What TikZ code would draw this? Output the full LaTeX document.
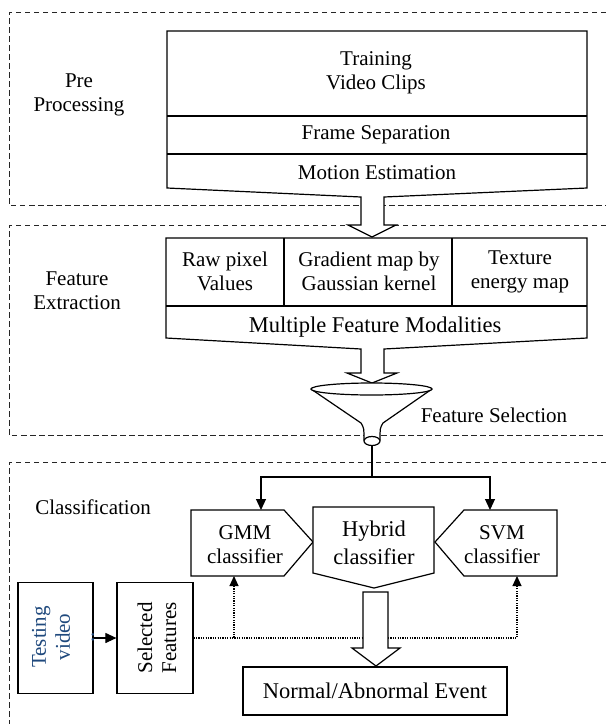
\documentclass[tikz,border=0pt]{standalone}
\usepackage{fontspec}
\setmainfont{Liberation Serif}
\usetikzlibrary{arrows.meta}

\definecolor{videoblue}{RGB}{31,73,125}

\tikzset{
  frame/.style={draw=black!85, line width=0.8pt, dash pattern=on 5.5pt off 3.5pt},
  block/.style={draw=black, line width=1.2pt, fill=white},
  lbl/.style={align=center, font=\fontsize{21}{24}\selectfont},
  biglbl/.style={align=center, font=\fontsize{22.5}{28}\selectfont},
  flow/.style={line width=1.1pt, -{Triangle[length=11pt,width=10pt]}},
  feed/.style={line width=1.1pt, dash pattern=on 1.2pt off 1.2pt, -{Triangle[length=10pt,width=9pt]}}
}

\begin{document}
\begin{tikzpicture}[x=1pt, y=-1pt]
\useasboundingbox (0,0) rectangle (606,724);

% Dashed section frames
\draw[frame] (606,12) -| (9,205) -- (606,205);
\draw[frame] (606,225) -| (9,435) -- (606,435);
\draw[frame] (606,462) -| (9,724);

\node[lbl] (prelbl) at (79,95) {Pre\\Processing};
\node[lbl] (featlbl) at (77,291) {Feature\\Extraction};
\node[lbl] (classlbl) at (93,507) {Classification};

% Pre processing stack with block arrow
\draw[block] (167,31) -- (587,31) -- (587,188) -- (384,197) -- (384,225) -- (396,225)
    -- (372,237) -- (348,225) -- (361,225) -- (361,197) -- (167,188) -- cycle;
\draw[block] (167,116) -- (587,116);
\draw[block] (167,154) -- (587,154);

\node[lbl] (clips) at (376,73) {Training\\Video Clips};
\node[lbl] (frames) at (376,135) {Frame Separation};
\node[lbl] (motion) at (377,173) {Motion Estimation};

% Feature extraction stack with block arrow
\draw[block] (166,238) -- (587,238) -- (587,338) -- (384,349) -- (384,373) -- (397,373)
    -- (372,383) -- (347,373) -- (361,373) -- (361,349) -- (166,338) -- cycle;
\draw[block] (166,306) -- (587,306);
\foreach \x in {284,452} {
    \draw[block] (\x,238) -- (\x,306);
}

\node[lbl] (raw) at (225,271) {Raw pixel\\Values};
\node[lbl] (grad) at (369,271) {Gradient map by\\Gaussian kernel};
\node[lbl] (texture) at (520,272) {Texture\\energy map};
\node[biglbl] (modal) at (375,327) {Multiple Feature Modalities};

% Funnel
\draw[block] (311,389) -- (361,423) .. controls (364,428) .. (364,440) -- (380,440)
    .. controls (380,428) .. (383,423) -- (432,389);
\draw[block] (371.5,389) ellipse [x radius=60.5, y radius=6];
\draw[block] (372,441) ellipse [x radius=8, y radius=4.5];
\coordinate (spout) at (372,445.5);
\node[lbl] (fsel) at (494,415) {Feature Selection};

% Classifiers
\coordinate (gmmin) at (261,510);
\coordinate (svmin) at (490,510);
\coordinate (gmmout) at (234,576);
\coordinate (svmout) at (517,576);

\draw[block] (191,510) -- (284,510) -- (313,542) -- (284,576) -- (191,576) -- cycle;
\draw[block] (313,507) -- (434,507) -- (434,573) -- (374,588) -- (313,573) -- cycle;
\draw[block] (435,542) -- (464,510) -- (557,510) -- (557,576) -- (464,576) -- cycle;

\node[lbl] (gmm) at (245,545) {GMM\\classifier};
\node[biglbl] (hybrid) at (374,543) {Hybrid\\classifier};
\node[lbl] (svm) at (502,545) {SVM\\classifier};

\draw[flow] (spout) -- (372,477) -| (gmmin);
\draw[flow] (spout) -- (372,477) -| (svmin);

% Testing path
\node[block, minimum width=75pt, minimum height=111pt] (testing) at (55.5,638) {};
\node[lbl, rotate=90, text=videoblue] (testingtxt) at (63,637) {Testing\\video\\..};
\node[block, minimum width=76pt, minimum height=111pt] (selected) at (155,638) {};
\node[lbl, rotate=90] (selectedtxt) at (157,638) {Selected\\Features};

\draw[flow] (testing) -- (selected);
\draw[feed] (selected.east) -| (gmmout);
\draw[feed] (selected.east) -| (svmout);

% Decision
\node[block, biglbl, minimum width=264pt, minimum height=48pt] (event) at (375,691) {Normal/Abnormal Event};
\draw[block] (363,592) -- (388,592) -- (388,648) -- (400,648) -- (376,666) -- (352,648)
    -- (363,648) -- cycle;

\end{tikzpicture}
\end{document}
